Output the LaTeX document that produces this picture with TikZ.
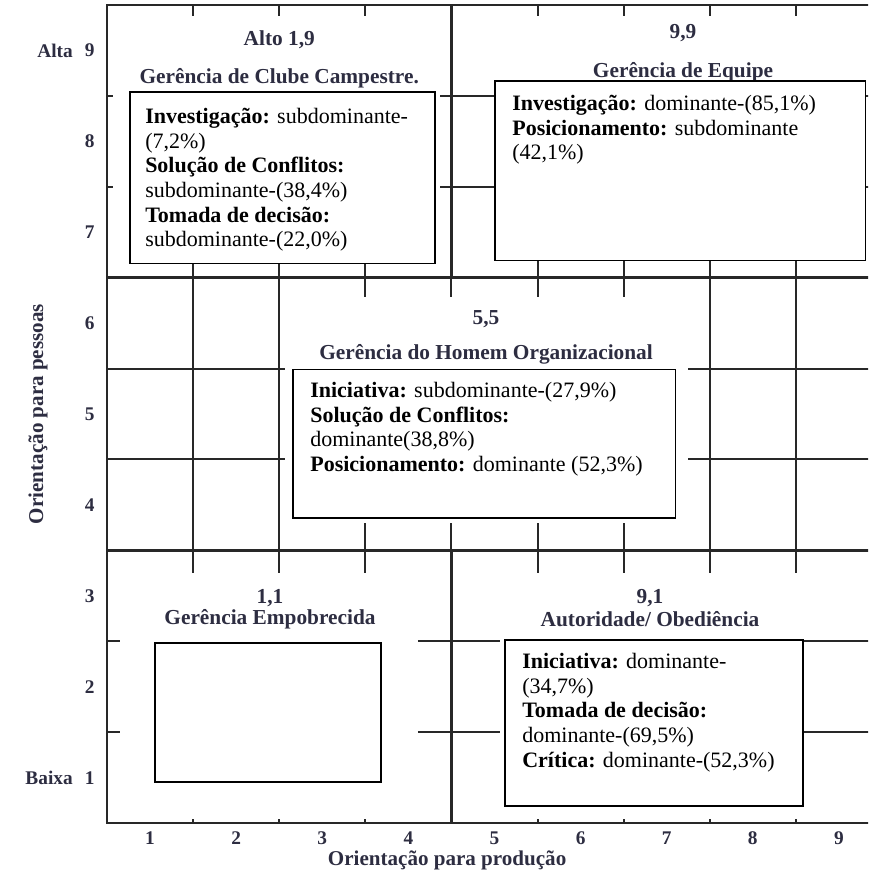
\documentclass[tikz,border=0pt]{standalone}
\usepackage{fontspec}
\setmainfont{Liberation Serif}
\definecolor{grade}{RGB}{40,40,40}
\definecolor{tinta}{RGB}{45,45,65}

\begin{document}
\begin{tikzpicture}[x=2.2696cm, y=2.3961cm,
    linha/.style={draw=grade, line width=1.5pt},
    eixo/.style={draw=grade, line width=2pt},
    caixa/.style={draw=black, fill=white, line width=.8pt},
    titulo/.style={text=tinta, inner sep=0pt, font=\fontsize{16}{18}\selectfont\bfseries},
    texto/.style={anchor=north west, align=left, inner sep=0pt, font=\fontsize{16.5}{18.5}\selectfont},
    num/.style={text=tinta, inner sep=0pt, font=\fontsize{14.5}{16}\selectfont\bfseries},
    rotulo/.style={text=tinta, inner sep=0pt, font=\fontsize{15.8}{18}\selectfont\bfseries}]
\clip (-0.743,-0.137) rectangle (9.339,9.555);
% grade
\draw[eixo] (0.5,0.5) rectangle (9.5,9.5);
\draw[eixo] (4.5,9.5)--(4.5,6.5) (4.5,3.5)--(4.5,0.5);
\draw[eixo] (0.5,6.5)--(9.5,6.5) (0.5,3.5)--(9.5,3.5);
\foreach \x in {1.5,2.5,7.5,8.5} \draw[linha] (\x,6.5)--(\x,3.5);
\foreach \y in {4.5,5.5} \draw[linha] (0.5,\y)--(2.57,\y) (7.25,\y)--(9.5,\y);
\foreach \x in {3.5,4.5,5.5,6.5} \draw[linha] (\x,6.5)--++(0,-0.21) (\x,3.5)--++(0,0.3);
\foreach \x in {1.5,2.5,3.5,5.5,6.5,7.5,8.5}{
    \draw[linha] (\x,9.5)--++(0,-0.12) (\x,6.5)--++(0,0.2);
    \draw[linha] (\x,3.5)--++(0,-0.25) (\x,0.5)--++(0,0.05);}
\foreach \y in {7.5,8.5} \draw[linha] (0.5,\y)--++(0.07,0) (4.37,\y)--(5.1,\y) (9.2,\y)--(9.5,\y);
\foreach \y in {1.5,2.5} \draw[linha] (0.5,\y)--++(0.15,0) (4.11,\y)--(5.06,\y) (8.58,\y)--(9.5,\y);
% eixos
\foreach \n in {1,...,9}{
    \node[num, anchor=base] (x\n) at (\n,0.26) {\n};
    \node[num] (y\n) at (0.3,\n) {\n};}
\node[num, anchor=east] (alta) at (0.105,9) {Alta};
\node[num, anchor=east] (baixa) at (0.105,1) {Baixa};
\node[rotulo, rotate=90] (pessoas) at (-0.3,5) {Orientação para pessoas};
\node[rotulo] (producao) at (4.45,0.094) {Orientação para produção};
% 1,9
\node[titulo] (cc1) at (2.5,9.115) {Alto 1,9};
\node[titulo] (cc2) at (2.5,8.697) {Gerência de Clube Campestre.};
\draw[caixa] (0.767,8.543) rectangle (4.309,6.651);
\node[texto] (cc) at (0.941,8.367) {\textbf{Investigação:} subdominante-\\(7,2\%)\\\textbf{Solução de Conflitos:}\\subdominante-(38,4\%)\\\textbf{Tomada de decisão:}\\subdominante-(22,0\%)};
% 9,9
\node[titulo] (eq1) at (7.19,9.192) {9,9};
\node[titulo] (eq2) at (7.19,8.763) {Gerência de Equipe};
\draw[caixa] (5.006,8.664) rectangle (9.304,6.684);
\node[texto] (eq) at (5.204,8.51) {\textbf{Investigação:} dominante-(85,1\%)\\\textbf{Posicionamento:} subdominante\\(42,1\%)};
% 5,5
\node[titulo] (ho1) at (4.902,6.046) {5,5};
\node[titulo] (ho2) at (4.902,5.661) {Gerência do Homem Organizacional};
\draw[caixa] (2.66,5.485) rectangle (7.097,3.856);
\node[texto] (ho) at (2.858,5.353) {\textbf{Iniciativa:} subdominante-(27,9\%)\\\textbf{Solução de Conflitos:}\\dominante(38,8\%)\\\textbf{Posicionamento:} dominante (52,3\%)};
% 1,1
\node[titulo] (em1) at (2.393,2.976) {1,1};
\node[titulo] (em2) at (2.393,2.745) {Gerência Empobrecida};
\draw[caixa] (1.057,2.481) rectangle (3.682,0.952);
% 9,1
\node[titulo] (au1) at (6.807,2.976) {9,1};
\node[titulo] (au2) at (6.807,2.745) {Autoridade/ Obediência};
\draw[caixa] (5.122,2.514) rectangle (8.583,0.688);
\node[texto] (au) at (5.32,2.371) {\textbf{Iniciativa:} dominante-\\(34,7\%)\\\textbf{Tomada de decisão:}\\dominante-(69,5\%)\\\textbf{Crítica:} dominante-(52,3\%)};
\end{tikzpicture}
\end{document}
